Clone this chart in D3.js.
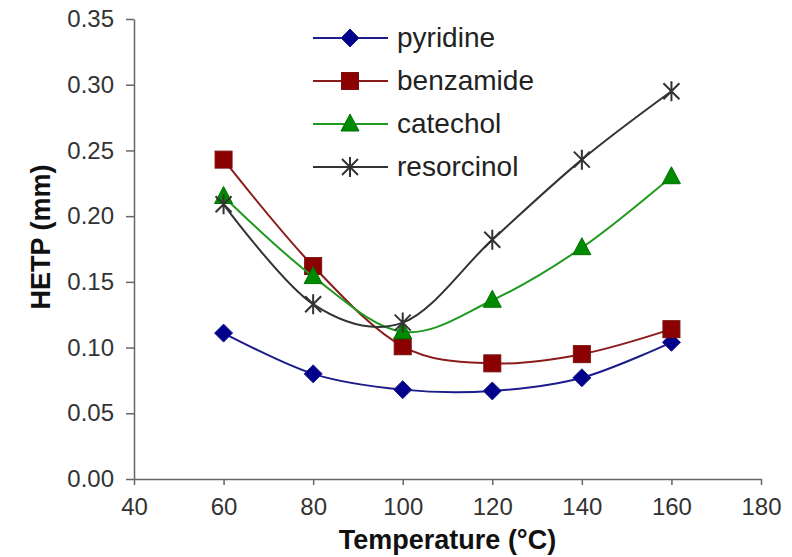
<!DOCTYPE html>
<meta charset="utf-8">
<script src="https://d3js.org/d3.v7.min.js"></script>
<style>
  body { margin: 0; background: #fff; }
  text { font-family: Arial, "Liberation Sans", sans-serif; }
</style>
<div id="chart"></div>
<script>

// data
var temps = [60, 80, 100, 120, 140, 160];
var pyridine   = [0.111, 0.080, 0.068, 0.067, 0.077, 0.104];
var benzamide  = [0.243, 0.162, 0.101, 0.088, 0.095, 0.114];
var catechol   = [0.215, 0.154, 0.112, 0.136, 0.176, 0.230];
var resorcinol = [0.209, 0.133, 0.119, 0.182, 0.243, 0.295];
var xTicks = [40, 60, 80, 100, 120, 140, 160, 180];
var yTicks = [0, 0.05, 0.10, 0.15, 0.20, 0.25, 0.30, 0.35];

var series = [
  {name: "pyridine",   values: pyridine,   line: "#1c1c8a", fill: "#00008b", marker: "diamond"},
  {name: "benzamide",  values: benzamide,  line: "#8a1c1c", fill: "#8b0000", marker: "square"},
  {name: "catechol",   values: catechol,   line: "#1f9a1f", fill: "#008a00", marker: "triangle"},
  {name: "resorcinol", values: resorcinol, line: "#333333", fill: "#333333", marker: "star"}
];

var width = 792, height = 557;
var margin = {left: 134, right: 31, top: 19, bottom: 78};

var svg = d3.select("#chart").append("svg")
  .attr("width", width)
  .attr("height", height);

var x = d3.scaleLinear().domain([40, 180]).range([margin.left, width - margin.right]);
var y = d3.scaleLinear().domain([0, 0.35]).range([height - margin.bottom, margin.top]);

// axes
var xAxis = svg.append("g")
  .attr("transform", "translate(0," + y(0) + ")")
  .call(d3.axisBottom(x).tickValues(xTicks).tickSize(6).tickSizeOuter(0).tickPadding(13));
var yAxis = svg.append("g")
  .attr("transform", "translate(" + x(40) + ",0)")
  .call(d3.axisLeft(y).tickValues(yTicks).tickSize(8).tickSizeOuter(0).tickPadding(12)
        .tickFormat(d3.format(".2f")));

[xAxis, yAxis].forEach(function(a) {
  a.selectAll("path, line").attr("stroke", "#666").attr("stroke-width", 1.5);
  a.selectAll("text").attr("font-size", 24).attr("fill", "#333")
    .attr("font-family", "Arial, 'Liberation Sans', sans-serif");
});

// axis titles
svg.append("text")
  .attr("x", (x(40) + x(180)) / 2)
  .attr("y", 549)
  .attr("text-anchor", "middle")
  .attr("font-size", 27).attr("font-weight", "bold").attr("fill", "#111")
  .text("Temperature (°C)");

svg.append("text")
  .attr("transform", "translate(50,237) rotate(-90)")
  .attr("text-anchor", "middle")
  .attr("font-size", 27).attr("font-weight", "bold").attr("fill", "#111")
  .text("HETP (mm)");

var line = d3.line()
  .x(function(d) { return x(d[0]); })
  .y(function(d) { return y(d[1]); })
  .curve(d3.curveCatmullRom.alpha(0));

function drawMarker(g, type, cx, cy, s) {
  if (type === "diamond") {
    var r = 9;
    g.append("path")
      .attr("d", "M" + cx + "," + (cy - r) + "L" + (cx + r) + "," + cy + "L" + cx + "," + (cy + r) + "L" + (cx - r) + "," + cy + "Z")
      .attr("fill", s.fill).attr("stroke", s.line).attr("stroke-width", 1);
  } else if (type === "square") {
    g.append("rect")
      .attr("x", cx - 8.5).attr("y", cy - 8.5).attr("width", 17).attr("height", 17)
      .attr("fill", s.fill).attr("stroke", "#7a1010").attr("stroke-width", 1);
  } else if (type === "triangle") {
    g.append("path")
      .attr("d", "M" + cx + "," + (cy - 10) + "L" + (cx + 9) + "," + (cy + 7) + "L" + (cx - 9) + "," + (cy + 7) + "Z")
      .attr("fill", s.fill).attr("stroke", "#007000").attr("stroke-width", 1);
  } else {
    var a = 8;
    g.append("path")
      .attr("d", "M" + (cx - a) + "," + (cy - a) + "L" + (cx + a) + "," + (cy + a) +
                 "M" + (cx - a) + "," + (cy + a) + "L" + (cx + a) + "," + (cy - a) +
                 "M" + cx + "," + (cy - 10) + "L" + cx + "," + (cy + 10))
      .attr("stroke", s.fill).attr("stroke-width", 2).attr("fill", "none");
  }
}

// series lines and markers
series.forEach(function(s) {
  var pts = temps.map(function(t, i) { return [t, s.values[i]]; });
  svg.append("path")
    .datum(pts)
    .attr("d", line)
    .attr("fill", "none")
    .attr("stroke", s.line)
    .attr("stroke-width", 2);
  var g = svg.append("g");
  pts.forEach(function(p) { drawMarker(g, s.marker, x(p[0]), y(p[1]), s); });
});

// legend
var legendY = [38, 81, 124, 167];
series.forEach(function(s, i) {
  var g = svg.append("g");
  g.append("line")
    .attr("x1", 313).attr("x2", 388)
    .attr("y1", legendY[i]).attr("y2", legendY[i])
    .attr("stroke", s.line).attr("stroke-width", 2);
  drawMarker(g, s.marker, 350, legendY[i], s);
  g.append("text")
    .attr("x", 397).attr("y", legendY[i] + 9)
    .attr("font-size", 28).attr("fill", "#222")
    .text(s.name);
});

</script>
